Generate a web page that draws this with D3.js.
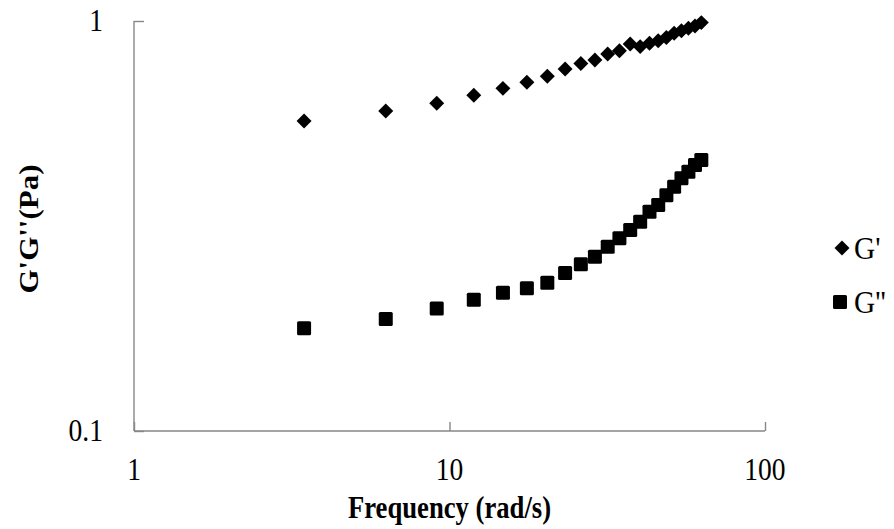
<!DOCTYPE html>
<html>
<head>
<meta charset="utf-8">
<script src="https://cdn.jsdelivr.net/npm/d3@7"></script>
<style>
  html, body { margin: 0; padding: 0; background: #fff; }
  svg { display: block; }
  text { font-family: "Liberation Serif", "Times New Roman", serif; fill: #000; }
</style>
</head>
<body>
<svg id="chart" width="894" height="529"></svg>
<script>
// Angular frequency (rad/s)
const frequency = [3.46, 6.28, 9.11, 11.94, 14.77, 17.59, 20.42, 23.25, 26.08, 28.90, 31.73,
                   34.56, 37.39, 40.21, 43.04, 45.87, 48.69, 51.52, 54.35, 57.18, 60.00, 62.83];
// Storage modulus G' (Pa)
const storageModulus = [0.570, 0.603, 0.630, 0.659, 0.685, 0.709, 0.733, 0.764, 0.788, 0.803, 0.831,
                        0.846, 0.879, 0.866, 0.882, 0.895, 0.912, 0.933, 0.947, 0.960, 0.972, 0.991];
// Loss modulus G'' (Pa)
const lossModulus = [0.178, 0.1875, 0.199, 0.209, 0.2175, 0.223, 0.230, 0.243, 0.255, 0.266, 0.2815,
                     0.295, 0.309, 0.324, 0.3426, 0.356, 0.376, 0.394, 0.4134, 0.429, 0.4455, 0.458];
const xTicks = [1, 10, 100];
const yTicks = [0.1, 1];
const seriesNames = ["G'", "G''"];

const svg = d3.select("#chart");
const axisColor = "#878787";
const squeeze = 0.86;   // condensed lettering

const x = d3.scaleLog().domain([1, 100]).range([134, 765]);
const y = d3.scaleLog().domain([0.1, 1]).range([431, 21]);

// Axes: ticks point into the plot area
const xAxis = svg.append("g").attr("transform", `translate(0,${y(0.1)})`)
  .call(d3.axisTop(x).tickValues(xTicks).tickSize(9).tickFormat(""));
const yAxis = svg.append("g").attr("transform", `translate(${x(1)},0)`)
  .call(d3.axisRight(y).tickValues(yTicks).tickSize(10).tickFormat(""));
[xAxis, yAxis].forEach(g => {
  g.select(".domain").attr("stroke", axisColor).attr("stroke-width", 1.4);
  g.selectAll(".tick line").attr("stroke", axisColor).attr("stroke-width", 1.4);
});
// Axis lines drawn without the end caps
xAxis.select(".domain").attr("d", `M${x(1)},0H${x(100)}`);
yAxis.select(".domain").attr("d", `M0,${y(0.1)}V${y(1)}`);

// Tick labels
function squeezedText(g, px, py, str, anchor, k = squeeze) {
  return g.append("text")
    .attr("transform", `translate(${px},${py}) scale(${k},1)`)
    .attr("text-anchor", anchor)
    .text(str);
}
const labels = svg.append("g").attr("font-size", 32);
xTicks.forEach(v => squeezedText(labels, x(v), 480, d3.format("")(v), "middle"));
yTicks.forEach(v => squeezedText(labels, 103, y(v) + 10, String(v), "end"));

// Axis titles
const titles = svg.append("g").attr("font-size", 31).attr("font-weight", "bold");
squeezedText(titles, x(10), 518, "Frequency (rad/s)", "middle");
titles.append("text")
  .attr("transform", `translate(38,229) rotate(-90) scale(1,${squeeze})`)
  .attr("text-anchor", "middle")
  .text("G'G''(Pa)");

// Markers
const diamond = d3.symbol().type(d3.symbolSquare).size(112);
svg.append("g").selectAll("path").data(frequency).join("path")
  .attr("d", diamond)
  .attr("transform", (d, i) => `translate(${x(d)},${y(storageModulus[i])}) rotate(45)`)
  .attr("fill", "#000");

const sq = 14;
svg.append("g").selectAll("rect").data(frequency).join("rect")
  .attr("x", d => x(d) - sq / 2)
  .attr("y", (d, i) => y(lossModulus[i]) - sq / 2)
  .attr("width", sq).attr("height", sq)
  .attr("rx", 1.5)
  .attr("fill", "#000");

// Legend
const legend = svg.append("g").attr("font-size", 32);
const legendY = [248, 302];
legend.append("path").attr("d", diamond)
  .attr("transform", `translate(842,${legendY[0]}) rotate(45)`).attr("fill", "#000");
legend.append("rect").attr("x", 840 - sq / 2).attr("y", legendY[1] - sq / 2)
  .attr("width", sq).attr("height", sq).attr("rx", 1.5).attr("fill", "#000");
seriesNames.forEach((name, i) =>
  squeezedText(legend, 854, legendY[i] + 11, name, "start", 0.92));
</script>
</body>
</html>
